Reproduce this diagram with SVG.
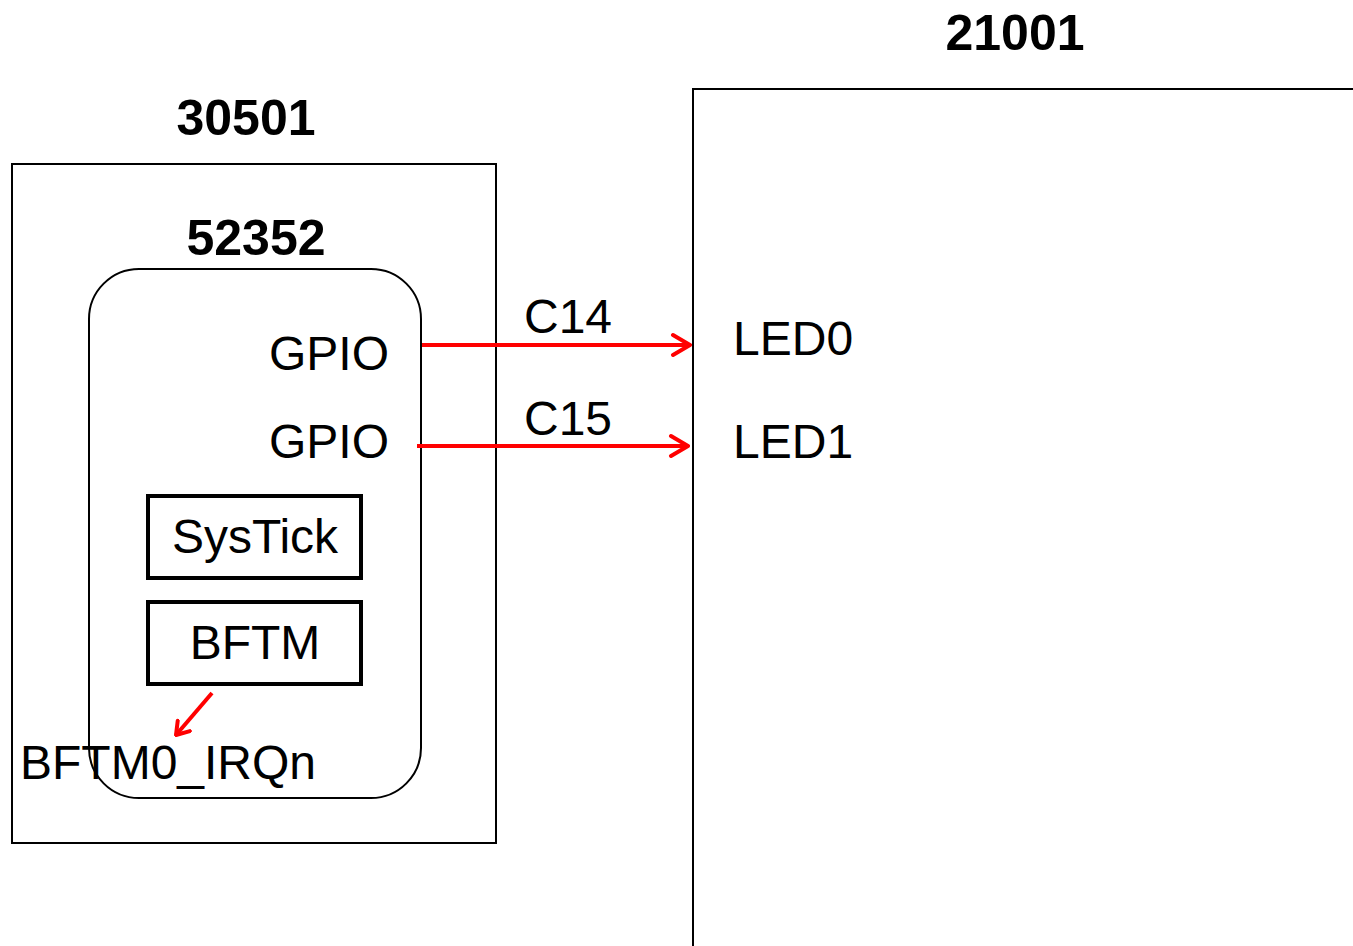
<svg xmlns="http://www.w3.org/2000/svg" width="1353" height="946" viewBox="0 0 1353 946">
<style>
.t{font-family:"Liberation Sans",Arial,sans-serif;font-size:48px;fill:#000}
.b{font-family:"Liberation Sans",Arial,sans-serif;font-size:50px;font-weight:bold;fill:#000}
.box{fill:none;stroke:#000;stroke-width:2}
.blk{fill:#fff;stroke:#000;stroke-width:4}
.red{fill:none;stroke:#f00;stroke-width:4}
</style>
<defs>
<marker id="ah" viewBox="0 0 22 26" refX="20" refY="13" markerWidth="22" markerHeight="26" markerUnits="userSpaceOnUse" orient="auto">
<path d="M3,3 L20,13 L3,23" fill="none" stroke="#f00" stroke-width="4" stroke-linecap="round" stroke-linejoin="round"/>
</marker>
<marker id="ahs" viewBox="0 0 16 20" refX="14" refY="10" markerWidth="16" markerHeight="20" markerUnits="userSpaceOnUse" orient="auto">
<path d="M2,2 L14,10 L2,18" fill="none" stroke="#f00" stroke-width="4" stroke-linecap="round" stroke-linejoin="round"/>
</marker>
</defs>
<rect width="1353" height="946" fill="#fff"/>
<g id="n30501">
<rect class="box" x="12" y="164" width="484" height="679"/>
<text class="b" x="246" y="135" text-anchor="middle">30501</text>
</g>
<g id="n52352">
<rect class="box" x="89" y="269" width="332" height="529" rx="50" ry="50"/>
<text class="b" x="256" y="255" text-anchor="middle">52352</text>
<text class="t" x="389" y="370" text-anchor="end">GPIO</text>
<text class="t" x="389" y="458" text-anchor="end">GPIO</text>
</g>
<g id="n21001">
<path class="box" d="M693,946 V89 H1353"/>
<text class="b" x="1015" y="50" text-anchor="middle">21001</text>
<text class="t" x="733" y="355">LED0</text>
<text class="t" x="733" y="458">LED1</text>
</g>
<g id="systick">
<rect class="blk" x="148" y="496" width="213" height="82"/>
<text class="t" x="255" y="553" text-anchor="middle">SysTick</text>
</g>
<g id="bftm">
<rect class="blk" x="148" y="602" width="213" height="82"/>
<text class="t" x="255" y="659" text-anchor="middle">BFTM</text>
</g>
<g id="irq">
<text class="t" x="20" y="779">BFTM0_IRQn</text>
</g>
<g id="connectors">
<line class="red" x1="422" y1="345" x2="690" y2="345" marker-end="url(#ah)"/>
<line class="red" x1="417" y1="446" x2="688" y2="446" marker-end="url(#ah)"/>
<line class="red" x1="212" y1="693" x2="176" y2="735" marker-end="url(#ahs)"/>
<text class="t" x="524" y="333">C14</text>
<text class="t" x="524" y="435">C15</text>
</g>
</svg>
